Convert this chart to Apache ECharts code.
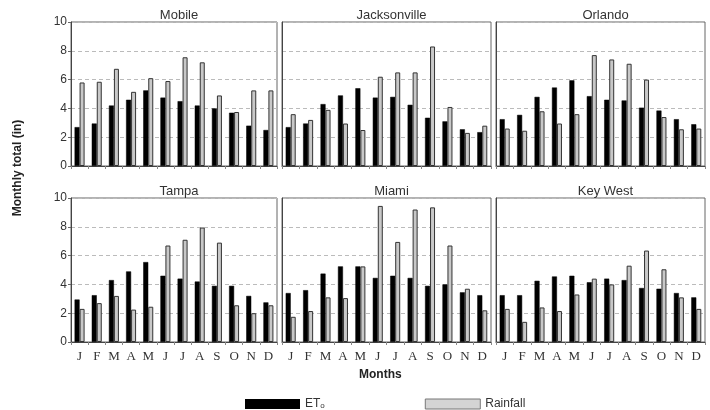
<!DOCTYPE html>
<html>
<head>
<meta charset="utf-8">
<script src="https://cdn.jsdelivr.net/npm/echarts@6/dist/echarts.min.js"></script>
<style>
html, body { margin: 0; padding: 0; background: #fff; }
#main { width: 710px; height: 410px; }
</style>
</head>
<body>
<div id="main"></div>
<script>
var months = ['J', 'F', 'M', 'A', 'M', 'J', 'J', 'A', 'S', 'O', 'N', 'D'];
var yTicks = [0, 2, 4, 6, 8, 10];
var cities = ['Mobile', 'Jacksonville', 'Orlando', 'Tampa', 'Miami', 'Key West'];

// ETo (in), per city
var etMobile = [2.7, 2.95, 4.2, 4.6, 5.25, 4.75, 4.5, 4.2, 4.0, 3.7, 2.8, 2.5];
var etJacksonville = [2.7, 2.95, 4.3, 4.9, 5.4, 4.75, 4.8, 4.25, 3.35, 3.1, 2.55, 2.35];
var etOrlando = [3.25, 3.55, 4.8, 5.45, 5.95, 4.85, 4.6, 4.55, 4.05, 3.85, 3.25, 2.9];
var etTampa = [2.95, 3.25, 4.3, 4.9, 5.55, 4.6, 4.4, 4.2, 3.9, 3.9, 3.2, 2.75];
var etMiami = [3.4, 3.6, 4.75, 5.25, 5.25, 4.45, 4.6, 4.45, 3.9, 4.0, 3.45, 3.25];
var etKeyWest = [3.25, 3.25, 4.25, 4.55, 4.6, 4.15, 4.4, 4.3, 3.75, 3.7, 3.4, 3.1];

// Rainfall (in), per city
var rainMobile = [5.8, 5.85, 6.75, 5.15, 6.1, 5.9, 7.55, 7.2, 4.9, 3.75, 5.25, 5.25];
var rainJacksonville = [3.6, 3.2, 3.9, 2.95, 2.5, 6.2, 6.5, 6.5, 8.3, 4.1, 2.3, 2.8];
var rainOrlando = [2.6, 2.45, 3.8, 2.95, 3.6, 7.7, 7.4, 7.1, 6.0, 3.4, 2.55, 2.6];
var rainTampa = [2.3, 2.7, 3.2, 2.25, 2.45, 6.7, 7.1, 7.95, 6.9, 2.55, 2.0, 2.55];
var rainMiami = [1.75, 2.15, 3.1, 3.05, 5.25, 9.45, 6.95, 9.2, 9.35, 6.7, 3.7, 2.2];
var rainKeyWest = [2.3, 1.4, 2.4, 2.15, 3.3, 4.4, 4.0, 5.3, 6.35, 5.05, 3.1, 2.3];

var etData = [etMobile, etJacksonville, etOrlando, etTampa, etMiami, etKeyWest];
var rainData = [rainMobile, rainJacksonville, rainOrlando, rainTampa, rainMiami, rainKeyWest];

var myChart = echarts.init(document.getElementById('main'));

var lefts = [71, 282, 496];
var widths = [206, 209, 209];
var tops = [22, 198];
var gh = 144;

var grids = [], xAxes = [], yAxes = [], series = [], titles = [];
for (var i = 0; i < 6; i++) {
	var col = i % 3, row = Math.floor(i / 3);
	grids.push({
		left: lefts[col], top: tops[row], width: widths[col], height: gh,
		show: true, borderColor: '#666', borderWidth: 1, backgroundColor: '#fff'
	});
	titles.push({
		text: cities[i],
		left: lefts[col] + widths[col] / 2, top: tops[row] - 18,
		textAlign: 'center',
		textStyle: { fontFamily: 'Liberation Sans', fontSize: 13, fontWeight: 'normal', color: '#333' }
	});
	xAxes.push({
		type: 'category', gridIndex: i, data: months,
		axisLine: { lineStyle: { color: '#444' } },
		axisTick: { show: true, length: 3, lineStyle: { color: '#888' } },
		axisLabel: {
			show: row == 1, margin: 8,
			fontFamily: 'Liberation Serif', fontSize: 13, color: '#333'
		}
	});
	yAxes.push({
		type: 'value', gridIndex: i, min: 0, max: 10, interval: 2,
		axisLine: { show: true, lineStyle: { color: '#444' } },
		axisTick: { show: col == 0, length: 3, lineStyle: { color: '#666' } },
		axisLabel: {
			show: col == 0, margin: 4,
			fontFamily: 'Liberation Sans', fontSize: 12, color: '#333'
		},
		splitLine: { show: true, lineStyle: { color: '#bbb', type: [4, 3] } }
	});
	series.push({
		name: 'ET0', type: 'bar', xAxisIndex: i, yAxisIndex: i,
		data: etData[i], barWidth: 5, barGap: '0%',
		itemStyle: { color: '#000', borderColor: '#000', borderWidth: 0.5 }
	});
	series.push({
		name: 'Rainfall', type: 'bar', xAxisIndex: i, yAxisIndex: i,
		data: rainData[i], barWidth: 5, barGap: '0%',
		itemStyle: { color: '#c8c8c8', borderColor: '#333', borderWidth: 1 }
	});
}

var option = {
	animation: false,
	backgroundColor: '#fff',
	title: titles,
	grid: grids,
	xAxis: xAxes,
	yAxis: yAxes,
	series: series,
	legend: {
		left: 240, top: 393,
		itemWidth: 55, itemHeight: 10, itemGap: 100,
		icon: 'rect',
		data: [
			{ name: 'ET0', itemStyle: { color: '#000', borderWidth: 0 } },
			{ name: 'Rainfall', itemStyle: { color: '#d4d4d4', borderColor: '#777', borderWidth: 1 } }
		],
		formatter: function(name) {
			if (name == 'ET0') return '{a|ET}{s|o}';
			return '{a|' + name + '}';
		},
		textStyle: {
			rich: {
				a: { fontFamily: 'Liberation Sans', fontSize: 12, color: '#333' },
				s: { fontFamily: 'Liberation Sans', fontSize: 8, color: '#333', padding: [4, 0, 0, 0] }
			}
		}
	},
	graphic: [
		{
			type: 'text', left: 359, top: 369,
			style: { text: 'Months', fontFamily: 'Liberation Sans', fontSize: 12, fontWeight: 'bold', fill: '#222' }
		},
		{
			type: 'text', x: 18, y: 168, rotation: Math.PI / 2,
			style: {
				text: 'Monthly total (in)', fontFamily: 'Liberation Sans', fontSize: 12,
				fontWeight: 'bold', fill: '#222', align: 'center', verticalAlign: 'middle'
			}
		}
	]
};

myChart.setOption(option);
</script>
</body>
</html>
